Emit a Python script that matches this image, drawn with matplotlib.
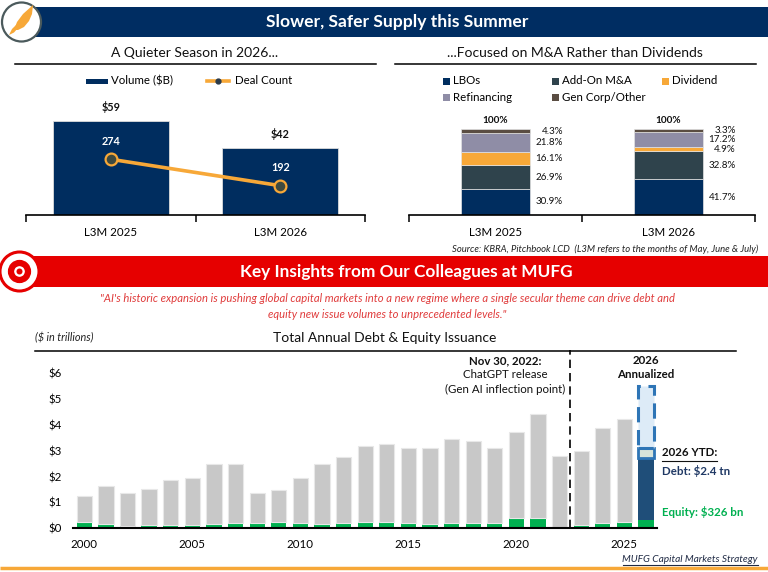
import matplotlib
matplotlib.use('Agg')
import matplotlib.pyplot as plt
from matplotlib.patches import Rectangle, Circle, Polygon
import numpy as np

plt.rcParams['font.family'] = ['Lato', 'DejaVu Sans']

# ---------------- data ----------------
vol_cats = ['L3M 2025', 'L3M 2026']
volume = [59, 42]
deal_count = [274, 192]

mix_cats = ['L3M 2025', 'L3M 2026']
mix_names = ['LBOs', 'Add-On M&A', 'Dividend', 'Refinancing', 'Gen Corp/Other']
lbos = [30.9, 41.7]
addon = [26.9, 32.8]
dividend = [16.1, 4.9]
refi = [21.8, 17.2]
gencorp = [4.3, 3.3]

hist_years = list(range(2000, 2026))
total_issuance = [1.25, 1.64, 1.35, 1.53, 1.88, 1.96, 2.48, 2.48, 1.35, 1.47,
                  1.96, 2.48, 2.76, 3.19, 3.25, 3.12, 3.11, 3.47, 3.39, 3.11,
                  3.75, 4.42, 2.80, 3.00, 3.89, 4.22]
equity_issuance = [0.26, 0.17, 0.09, 0.13, 0.14, 0.13, 0.18, 0.22, 0.22, 0.25,
                   0.22, 0.18, 0.22, 0.26, 0.26, 0.22, 0.18, 0.19, 0.22, 0.22,
                   0.41, 0.41, 0.06, 0.13, 0.22, 0.26]
ytd_year = 2026
ytd_equity = 0.326
ytd_debt = 2.4
ytd_band_top = 3.10
annualized_2026 = 5.51
year_ticks = [2000, 2005, 2010, 2015, 2020, 2025]
y_ticks = [0, 1, 2, 3, 4, 5, 6]

# ---------------- colours ----------------
NAVY = '#002d62'
ORANGE = '#f7a838'
RED = '#e60000'
GREEN = '#00b050'
GREY = '#c8c8c8'
mix_colors = ['#002d5f', '#2f434c', '#f7a838', '#8f8da6', '#5a4d42']

W, H = 768, 572
fig = plt.figure(figsize=(W / 100, H / 100), dpi=100)
bg = fig.add_axes([0, 0, 1, 1], zorder=0)
bg.set_xlim(0, W)
bg.set_ylim(H, 0)
bg.axis('off')


def pax(x0, y0, x1, y1):
    a = fig.add_axes([x0 / W, 1 - y1 / H, (x1 - x0) / W, (y1 - y0) / H], zorder=2)
    a.patch.set_alpha(0)
    return a


def T(x, y, s, **kw):
    kw.setdefault('va', 'center')
    kw.setdefault('ha', 'center')
    return bg.text(x, y, s, **kw)


# ---------------- header band ----------------
bg.add_patch(Rectangle((35, 7), W - 35, 30, color=NAVY, lw=0))
bg.add_patch(Circle((21.5, 22), 19.5, facecolor='white', edgecolor='#4b5a5c', lw=1.6, zorder=3))
bg.add_patch(Polygon([(14, 30), (17, 22), (23, 14), (33, 5), (32, 14), (29, 21), (24, 27), (18, 30)],
                     closed=True, color=ORANGE, lw=0, zorder=4))
bg.add_patch(Polygon([(9, 35), (12, 29), (17, 24), (21.5, 21.5), (18.5, 27.5), (14, 32.5)],
                     closed=True, color=ORANGE, lw=0, zorder=4))
T(397, 22, 'Slower, Safer Supply this Summer', color='white', fontsize=12.6, fontweight='bold')

# sub titles
T(195, 53, 'A Quieter Season in 2026...', fontsize=10, color='#111111')
bg.plot([15, 376], [64, 64], color='black', lw=1.1)
T(575, 53, '...Focused on M&A Rather than Dividends', fontsize=10, color='#111111')
bg.plot([395, 756], [64, 64], color='black', lw=1.1)

# ---------------- left chart ----------------
ax1 = pax(26, 90, 365, 215)
xv = np.arange(len(vol_cats))
ax1.bar(xv, volume, width=0.685, color='#002d5f', edgecolor='#dcdcdc', lw=0.6, zorder=2)
ax1.set_xlim(-0.5, 1.5)
ax1.set_ylim(0, 78.2)
for i, v in enumerate(volume):
    ax1.annotate(f'${v}', (xv[i], v), xytext=(0, 14), textcoords='offset pixels',
                 ha='center', va='center', fontsize=7.8, fontweight='bold', color='#111111')
for s in ['top', 'left', 'right']:
    ax1.spines[s].set_visible(False)
ax1.spines['bottom'].set_linewidth(1.2)
ax1.set_yticks([])
ax1.set_xticks(xv)
ax1.set_xticklabels(vol_cats, fontsize=8.3)
ax1.tick_params(axis='x', which='major', length=0, pad=9)
ax1.set_xticks([-0.5, 0.5, 1.5], minor=True)
ax1.tick_params(axis='x', which='minor', length=5, width=1.1, direction='out')

ax1b = ax1.twinx()
ax1b.set_ylim(100.9, 489.1)
ax1b.plot(xv, deal_count, color=ORANGE, lw=2.6, marker='o', ms=8.5,
          mfc='#3e4a40', mec=ORANGE, mew=1.6, zorder=3)
for i, v in enumerate(deal_count):
    ax1b.annotate(f'{v}', (xv[i], v), xytext=(0, 18), textcoords='offset pixels',
                  ha='center', va='center', fontsize=7.8, fontweight='bold', color='white')
ax1b.axis('off')

# left legend
bg.add_patch(Rectangle((86, 78.5), 22, 5, color='#002d5f', lw=0))
T(111, 81, 'Volume ($B)', ha='left', fontsize=8.3)
bg.plot([207, 229], [81, 81], color=ORANGE, lw=2.6)
bg.plot([218], [81], marker='o', ms=3.5, color='#2a3a4a')
T(235, 81, 'Deal Count', ha='left', fontsize=8.3)

# ---------------- right chart ----------------
ax2 = pax(409, 90, 755, 215)
xm = np.arange(len(mix_cats))
bottom = np.zeros(len(mix_cats))
for vals, col in zip([lbos, addon, dividend, refi, gencorp], mix_colors):
    vals = np.array(vals)
    ax2.bar(xm, vals, bottom=bottom, width=0.4, color=col, edgecolor='#e4e4e4', lw=0.5, zorder=2)
    for i in range(len(xm)):
        ax2.text(xm[i] + 0.39, bottom[i] + vals[i] / 2, f'{vals[i]:.1f}%',
                 ha='right', va='center', fontsize=7.1, color='#111111')
    bottom = bottom + vals
for i in range(len(xm)):
    ax2.annotate('100%', (xm[i], bottom[i]), xytext=(0, 9), textcoords='offset pixels',
                 ha='center', va='center', fontsize=7.2, fontweight='bold', color='#111111')
ax2.set_xlim(-0.5, 1.5)
ax2.set_ylim(0, 145.9)
for s in ['top', 'left', 'right']:
    ax2.spines[s].set_visible(False)
ax2.spines['bottom'].set_linewidth(1.2)
ax2.set_yticks([])
ax2.set_xticks(xm)
ax2.set_xticklabels(mix_cats, fontsize=8.3)
ax2.tick_params(axis='x', which='major', length=0, pad=9)
ax2.set_xticks([-0.5, 0.5, 1.5], minor=True)
ax2.tick_params(axis='x', which='minor', length=5, width=1.1, direction='out')

# right legend
leg_pos = [(442.7, 81), (552.3, 81), (662.3, 81), (442.7, 97.5), (552.3, 97.5)]
for (lx, ly), name, col in zip(leg_pos, mix_names, mix_colors):
    bg.add_patch(Rectangle((lx, ly - 3.5), 7, 7, color=col, lw=0))
    T(lx + 10, ly, name, ha='left', fontsize=8.3)

T(758, 249, 'Source: KBRA, Pitchbook LCD  (L3M refers to the months of May, June & July)',
  ha='right', fontsize=6.8, style='italic', color='#222222')

# ---------------- red band ----------------
bg.add_patch(Rectangle((30, 256), W - 30, 31, color=RED, lw=0))
bg.add_patch(Circle((19.5, 271.5), 19.5, facecolor='white', edgecolor=RED, lw=2.2, zorder=3))
bg.add_patch(Circle((19.5, 271.5), 8.5, facecolor='white', edgecolor=RED, lw=4.5, zorder=4))
bg.add_patch(Circle((19.5, 271.5), 3.0, facecolor=RED, lw=0, zorder=5))
T(406, 272.5, 'Key Insights from Our Colleagues at MUFG', color='white', fontsize=12.4, fontweight='bold')
T(387, 298, '"AI\'s historic expansion is pushing global capital markets into a new regime where a single secular theme can drive debt and',
  fontsize=8.1, style='italic', color='#e03c3c')
T(387, 315, 'equity new issue volumes to unprecedented levels."', fontsize=8.1, style='italic', color='#e03c3c')

# ---------------- bottom chart ----------------
T(35, 338, '($ in trillions)', ha='left', fontsize=7.8, style='italic', color='#222222')
T(385, 338, 'Total Annual Debt & Equity Issuance', fontsize=10, color='#111111')
bg.plot([35, 736], [350.5, 350.5], color='black', lw=1.1)

ax3 = pax(72.7, 352, 657, 528.3)
tot = np.array(total_issuance)
eq = np.array(equity_issuance)
ax3.bar(hist_years, eq, width=0.71, color=GREEN, lw=0, zorder=2)
ax3.bar(hist_years, tot - eq, bottom=eq, width=0.71, color=GREY, edgecolor='#e8e8e8', lw=0.8, zorder=2)
ax3.bar([ytd_year], [ytd_equity], width=0.75, color=GREEN, lw=0, zorder=2)
ax3.bar([ytd_year], [ytd_debt], bottom=[ytd_equity], width=0.75, color='#1f4e79', lw=0, zorder=2)
ax3.bar([ytd_year], [ytd_band_top - ytd_equity - ytd_debt], bottom=[ytd_equity + ytd_debt], width=0.75,
        color='#d6e3da', edgecolor='#2e75b6', lw=2.0, zorder=3)
ax3.bar([ytd_year], [annualized_2026 - ytd_band_top], bottom=[ytd_band_top], width=0.75,
        color='#ddebf7', edgecolor='#2e75b6', lw=2.2, linestyle=(0, (5, 2.5)), zorder=3)
ax3.set_xlim(1999.46, 2026.51)
ax3.set_ylim(0, 6.83)
ax3.axvline(2022.5, ymin=0, ymax=1.01, color='black', lw=1.2, dashes=(5, 3), clip_on=False, zorder=1)
for s in ['top', 'left', 'right']:
    ax3.spines[s].set_visible(False)
ax3.spines['bottom'].set_linewidth(1.5)
ax3.set_xticks(year_ticks)
ax3.set_xticklabels([str(y) for y in year_ticks], fontsize=8.3)
ax3.set_yticks(y_ticks)
ax3.set_yticklabels([f'${v}' for v in y_ticks], fontsize=8.3)
ax3.tick_params(axis='both', length=0)
ax3.tick_params(axis='x', pad=8)
ax3.tick_params(axis='y', pad=8)

T(505, 361, 'Nov 30, 2022:', fontsize=8.3, fontweight='bold', color='#111111')
T(505, 375, 'ChatGPT release', fontsize=8.3, color='#111111')
T(505, 389, '(Gen AI inflection point)', fontsize=8.3, color='#111111')
T(646, 361, '2026', fontsize=8.3, fontweight='bold', color='#111111')
T(646, 375, 'Annualized', fontsize=8.3, fontweight='bold', color='#111111')
t1 = T(662, 453, '2026 YTD:', ha='left', fontsize=8.3, fontweight='bold', color='#111111')
T(662, 471, 'Debt: $2.4 tn', ha='left', fontsize=8.3, fontweight='bold', color='#1f3864')
T(662, 512, 'Equity: $326 bn', ha='left', fontsize=8.3, fontweight='bold', color=GREEN)
t2 = T(758, 559, 'MUFG Capital Markets Strategy', ha='right', fontsize=7.3, style='italic', color='#1f2a44')

fig.canvas.draw()
r = fig.canvas.get_renderer()
inv = bg.transData.inverted()
for t, off, c in [(t1, 2, '#111111'), (t2, 1.5, '#1f2a44')]:
    bb = t.get_window_extent(r)
    (xa, ya), (xb, yb) = inv.transform([[bb.x0, bb.y0], [bb.x1, bb.y1]])
    bg.plot([xa, xb], [ya + off, ya + off], color=c, lw=0.8)

# bottom orange rule
bg.plot([0, W], [567.5, 567.5], color=ORANGE, lw=2.5, solid_capstyle='butt')

fig.savefig('out.png', dpi=100)
